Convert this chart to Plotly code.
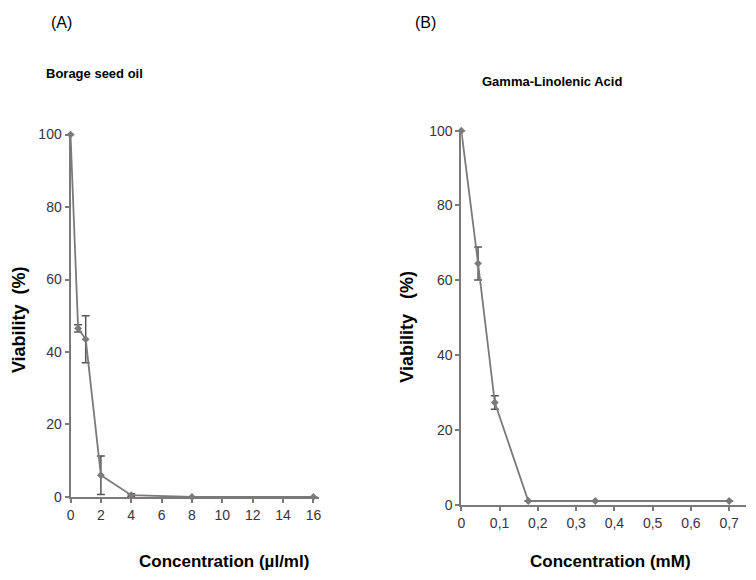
import plotly.graph_objects as go

# Panel A - borage seed oil
conc_a = [0, 0.5, 1, 2, 4, 8, 16]
via_a = [100, 46.5, 43.5, 6, 0.5, 0, 0]
err_a = [0, 1, 6.5, 5.3, 0.4, 0, 0]

# Panel B - gamma-linolenic acid
conc_b = [0, 0.04375, 0.0875, 0.175, 0.35, 0.7]
via_b = [100, 64.5, 27.3, 1, 1, 1]
err_b = [0, 4.4, 1.8, 0, 0, 0]

ticks_a = [0, 2, 4, 6, 8, 10, 12, 14, 16]
ticks_b = [0, 0.1, 0.2, 0.3, 0.4, 0.5, 0.6, 0.7]
ticks_y = [0, 20, 40, 60, 80, 100]

gray = "#7a7a7a"
font = "Liberation Sans, Arial, sans-serif"

# page body has an 8px margin, so the figure is a bit smaller than the window
W, H, OFF = 740, 564, 8


def px(x):
    return (x - OFF) / W


def py(y):
    return 1 - (y - OFF) / H


fig = go.Figure()

fig.add_trace(go.Scatter(
    x=conc_a, y=via_a, mode="lines+markers",
    line=dict(color=gray, width=1.8),
    marker=dict(symbol="diamond", size=6, color=gray),
    error_y=dict(type="data", array=err_a, color="#555555", thickness=1.5, width=4),
    cliponaxis=False, xaxis="x", yaxis="y"
))
fig.add_trace(go.Scatter(
    x=conc_b, y=via_b, mode="lines+markers",
    line=dict(color=gray, width=1.8),
    marker=dict(symbol="diamond", size=6, color=gray),
    error_y=dict(type="data", array=err_b, color="#555555", thickness=1.5, width=4),
    cliponaxis=False, xaxis="x2", yaxis="y2"
))

axis_common = dict(
    showgrid=False, zeroline=False, showline=True, linecolor=gray, linewidth=2,
    ticks="outside", ticklen=4, tickcolor=gray, tickwidth=1.5,
    tickfont=dict(family=font, size=14, color="#3a3340"),
)

fig.update_layout(
    width=W, height=H,
    margin=dict(l=0, r=0, t=0, b=0),
    paper_bgcolor="white", plot_bgcolor="white",
    showlegend=False,
    separators=", ",
    xaxis=dict(domain=[px(67), px(318)], range=[0, 16.4], tickvals=ticks_a,
               anchor="y", **axis_common),
    yaxis=dict(domain=[py(503), py(130)], range=[0, 100], tickvals=ticks_y,
               anchor="x", **axis_common),
    xaxis2=dict(domain=[px(461), px(748)], range=[0, 0.744], tickvals=ticks_b,
                anchor="y2", **axis_common),
    yaxis2=dict(domain=[py(511), py(126)], range=[0, 100], tickvals=ticks_y,
                anchor="x2", **axis_common),
)


def label(text, x, y, size=14, bold=False, angle=0, anchor="center"):
    fig.add_annotation(
        text="<b>%s</b>" % text if bold else text,
        x=px(x), y=py(y), xref="paper", yref="paper",
        showarrow=False, textangle=angle, xanchor=anchor, yanchor="middle",
        font=dict(family=font, size=size, color="black"),
    )


label("(A)", 45, 15, size=16, anchor="left")
label("(B)", 412, 15, size=16, anchor="left")
label("Borage seed oil", 40, 67, size=13, bold=True, anchor="left")
label("Gamma-Linolenic Acid", 480, 75, size=13, bold=True, anchor="left")
label("Concentration (µl/ml)", 222, 569, size=17, bold=True)
label("Concentration (mM)", 611, 569, size=17, bold=True)
label("Viability  (%)", 15, 320, size=18, bold=True, angle=-90)
label("Viability   (%)", 406, 328, size=18, bold=True, angle=-90)

fig.write_html("out.html")
